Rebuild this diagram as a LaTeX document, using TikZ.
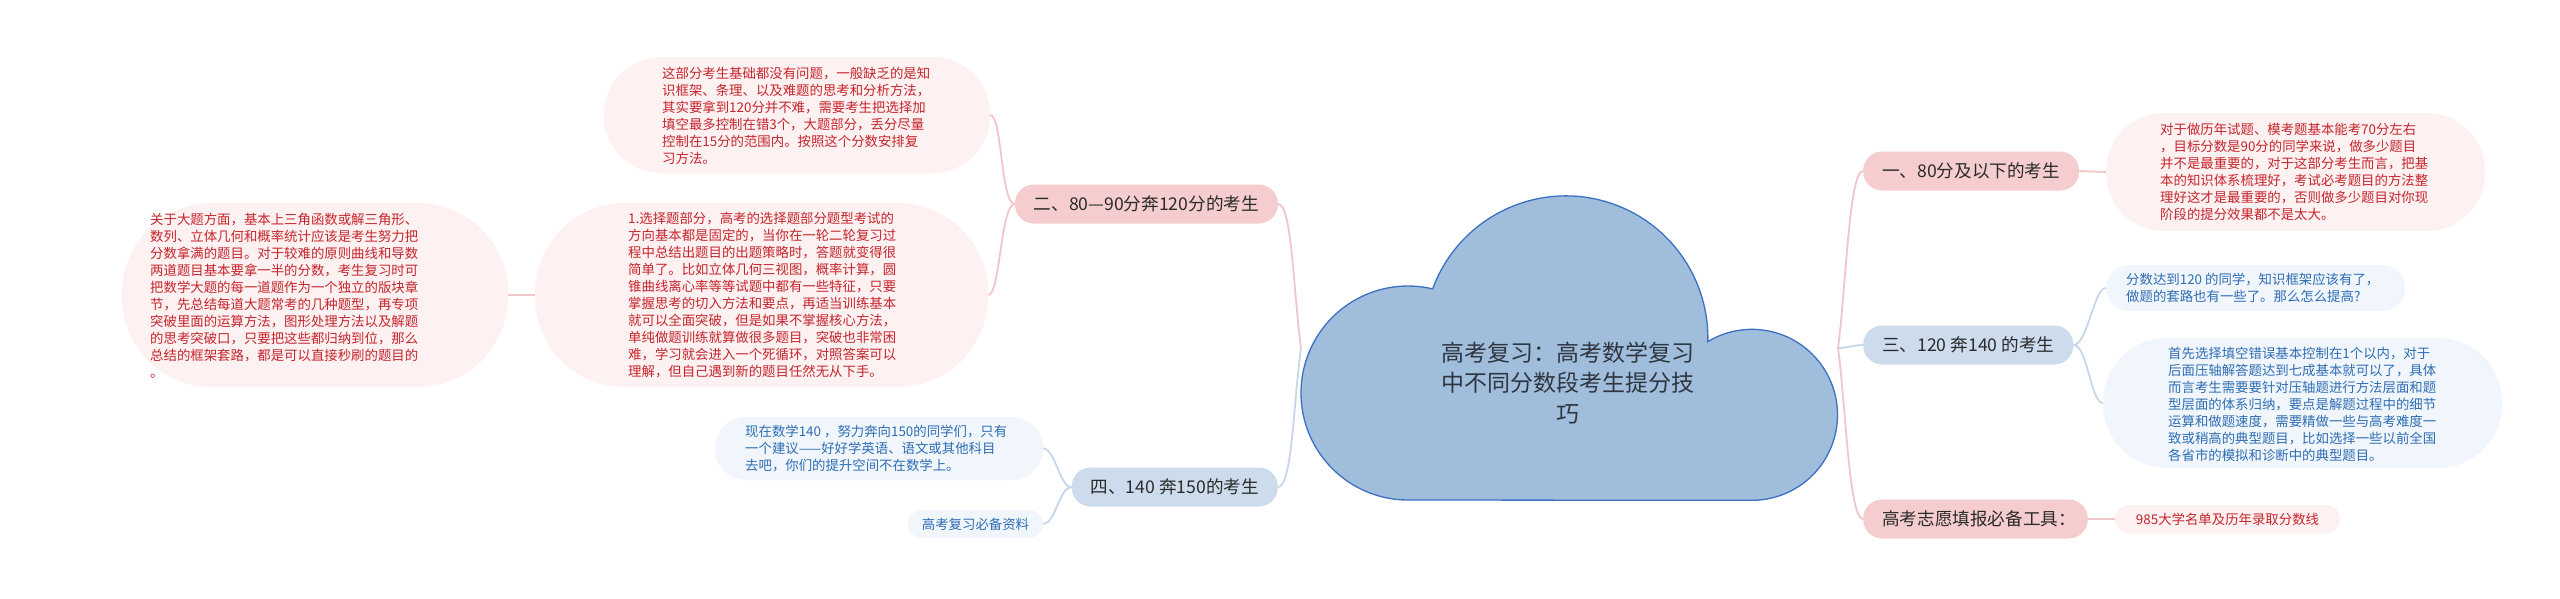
\documentclass[tikz,border=0pt]{standalone}
\usepackage{fontspec}
\setmainfont{Noto Sans CJK SC}
\pgfdeclarelayer{bg}
\pgfsetlayers{bg,main}
\definecolor{pinkbr}{HTML}{F5CDCE}
\definecolor{bluebr}{HTML}{CCDCEC}
\definecolor{pinkleaf}{HTML}{FDF1F1}
\definecolor{blueleaf}{HTML}{F1F6FC}
\definecolor{redtext}{HTML}{C5252C}
\definecolor{bluetext}{HTML}{2E6DB4}
\definecolor{pinkline}{HTML}{F0C6C8}
\definecolor{blueline}{HTML}{C7D7E9}
\definecolor{cloudfill}{HTML}{A0BEDC}
\definecolor{clouddraw}{HTML}{3C70C2}
\definecolor{roottext}{HTML}{2F3640}
\definecolor{brtext}{HTML}{2A2A2A}
\begin{document}
\begin{tikzpicture}[x=1pt,y=-1pt,
  pinkB/.style={fill=pinkbr, rounded corners=19pt, minimum height=39pt, inner xsep=19pt, inner ysep=0pt, text=brtext, font=\fontsize{17.6}{22}\selectfont},
  blueB/.style={pinkB, fill=bluebr},
  pinkbox/.style={fill=pinkleaf, inner sep=0pt},
  bluebox/.style={fill=blueleaf, inner sep=0pt},
  ptext/.style={text=redtext, font=\fontsize{13.4}{17}\selectfont, align=left, inner sep=0pt, anchor=west},
  btext/.style={ptext, text=bluetext},
  pline/.style={draw=pinkline, line width=1.8pt},
  bline/.style={draw=blueline, line width=1.8pt}]
\useasboundingbox (0,0) rectangle (2560,598);
\begin{pgfonlayer}{bg}
\fill[white] (0,0) rectangle (2560,598);
\end{pgfonlayer}

% cloud (root)
\draw[fill=cloudfill, draw=clouddraw, line width=1.3pt]
  (1408,500) arc[start angle=90, end angle=283.3, radius=107]
  arc[start angle=200.2, end angle=361.5, radius=142]
  arc[start angle=238.9, end angle=450, radius=85.5] -- cycle;
\node[text=roottext, font=\fontsize{23}{30.5}\selectfont, align=center, inner sep=0pt] (root) at (1568,383)
  {高考复习：高考数学复习\\中不同分数段考生提分技\\巧};
\coordinate (rootL) at (1301,348);
\coordinate (rootR) at (1838,348);

% left branches
\node[pinkB, anchor=east] (B2) at (1278,204) {二、80—90分奔120分的考生};
\node[blueB, anchor=east] (B4) at (1278,487) {四、140 奔150的考生};

\node[pinkbox, minimum width=386pt, minimum height=116pt, rounded corners=57pt] (L2a) at (797,115) {};
\node[ptext] (L2at) at (662,116) {这部分考生基础都没有问题，一般缺乏的是知\\识框架、条理、以及难题的思考和分析方法，\\其实要拿到120分并不难，需要考生把选择加\\填空最多控制在错3个，大题部分，丢分尽量\\控制在15分的范围内。按照这个分数安排复\\习方法。};

\node[pinkbox, minimum width=453pt, minimum height=184pt, rounded corners=90pt] (L2b) at (761.5,295) {};
\node[ptext] (L2bt) at (628,295) {1.选择题部分，高考的选择题部分题型考试的\\方向基本都是固定的，当你在一轮二轮复习过\\程中总结出题目的出题策略时，答题就变得很\\简单了。比如立体几何三视图，概率计算，圆\\锥曲线离心率等等试题中都有一些特征，只要\\掌握思考的切入方法和要点，再适当训练基本\\就可以全面突破，但是如果不掌握核心方法，\\单纯做题训练就算做很多题目，突破也非常困\\难，学习就会进入一个死循环，对照答案可以\\理解，但自己遇到新的题目任然无从下手。};

\node[pinkbox, minimum width=386pt, minimum height=184pt, rounded corners=90pt] (L1) at (315,295) {};
\node[ptext] (L1t) at (150,296) {关于大题方面，基本上三角函数或解三角形、\\数列、立体几何和概率统计应该是考生努力把\\分数拿满的题目。对于较难的原则曲线和导数\\两道题目基本要拿一半的分数，考生复习时可\\把数学大题的每一道题作为一个独立的版块章\\节，先总结每道大题常考的几种题型，再专项\\突破里面的运算方法，图形处理方法以及解题\\的思考突破口，只要把这些都归纳到位，那么\\总结的框架套路，都是可以直接秒刷的题目的\\。};

\node[bluebox, minimum width=328pt, minimum height=63pt, rounded corners=31pt] (L4a) at (879,448.5) {};
\node[btext] (L4at) at (745,449) {现在数学140 ，努力奔向150的同学们，只有\\一个建议——好好学英语、语文或其他科目\\去吧，你们的提升空间不在数学上。};

\node[bluebox, minimum width=135pt, minimum height=28pt, rounded corners=14pt] (L4b) at (975.5,524) {};
\node[btext, anchor=center] (L4bt) at (975.5,524) {高考复习必备资料};

% right branches
\node[pinkB, anchor=west] (B1) at (1863,171) {一、80分及以下的考生};
\node[blueB, anchor=west] (B3) at (1863,345) {三、120 奔140 的考生};
\node[pinkB, anchor=west] (B4r) at (1863,519) {高考志愿填报必备工具\makebox[0.6em][l]{：}};

\node[pinkbox, minimum width=379pt, minimum height=118pt, rounded corners=58pt] (R1) at (2295.5,172) {};
\node[ptext] (R1t) at (2160,172) {对于做历年试题、模考题基本能考70分左右\\，目标分数是90分的同学来说，做多少题目\\并不是最重要的，对于这部分考生而言，把基\\本的知识体系梳理好，考试必考题目的方法整\\理好这才是最重要的，否则做多少题目对你现\\阶段的提分效果都不是太大。};

\node[bluebox, minimum width=299pt, minimum height=46pt, rounded corners=23pt] (R3a) at (2255.5,288) {};
\node[btext] (R3at) at (2126,288) {分数达到120 的同学，知识框架应该有了，\\做题的套路也有一些了。那么怎么提高?};

\node[bluebox, minimum width=399pt, minimum height=130pt, rounded corners=64pt] (R3b) at (2302.5,403) {};
\node[btext] (R3bt) at (2168,404) {首先选择填空错误基本控制在1个以内，对于\\后面压轴解答题达到七成基本就可以了，具体\\而言考生需要要针对压轴题进行方法层面和题\\型层面的体系归纳，要点是解题过程中的细节\\运算和做题速度，需要精做一些与高考难度一\\致或稍高的典型题目，比如选择一些以前全国\\各省市的模拟和诊断中的典型题目。};

\node[pinkbox, minimum width=225pt, minimum height=28pt, rounded corners=14pt] (R4) at (2227.5,519) {};
\node[ptext, anchor=center] (R4t) at (2227.5,519) {985大学名单及历年录取分数线};

% connectors
\begin{pgfonlayer}{bg}
\draw[pline] (rootL) .. controls +(-8,-60) and +(14,0) .. (B2.east);
\draw[bline] (rootL) .. controls +(-8,60) and +(14,0) .. (B4.east);
\draw[pline] (B2.west) .. controls +(-14,0) and +(12,0) .. (L2a.east);
\draw[pline] (B2.west) .. controls +(-14,0) and +(12,0) .. (L2b.east);
\draw[pline] (L2b.west) -- (L1.east);
\draw[bline] (B4.west) .. controls +(-12,0) and +(12,0) .. (L4a.east);
\draw[bline] (B4.west) .. controls +(-12,0) and +(12,0) .. (L4b.east);
\draw[pline] (rootR) .. controls +(8,-60) and +(-14,0) .. (B1.west);
\draw[bline] (rootR) .. controls +(10,0) and +(-10,0) .. (B3.west);
\draw[pline] (rootR) .. controls +(8,60) and +(-14,0) .. (B4r.west);
\draw[pline] (B1.east) -- (R1.west);
\draw[bline] (B3.east) .. controls +(14,0) and +(-12,0) .. (R3a.west);
\draw[bline] (B3.east) .. controls +(14,0) and +(-12,0) .. (R3b.west);
\draw[pline] (B4r.east) -- (R4.west);
\end{pgfonlayer}
\end{tikzpicture}
\end{document}
